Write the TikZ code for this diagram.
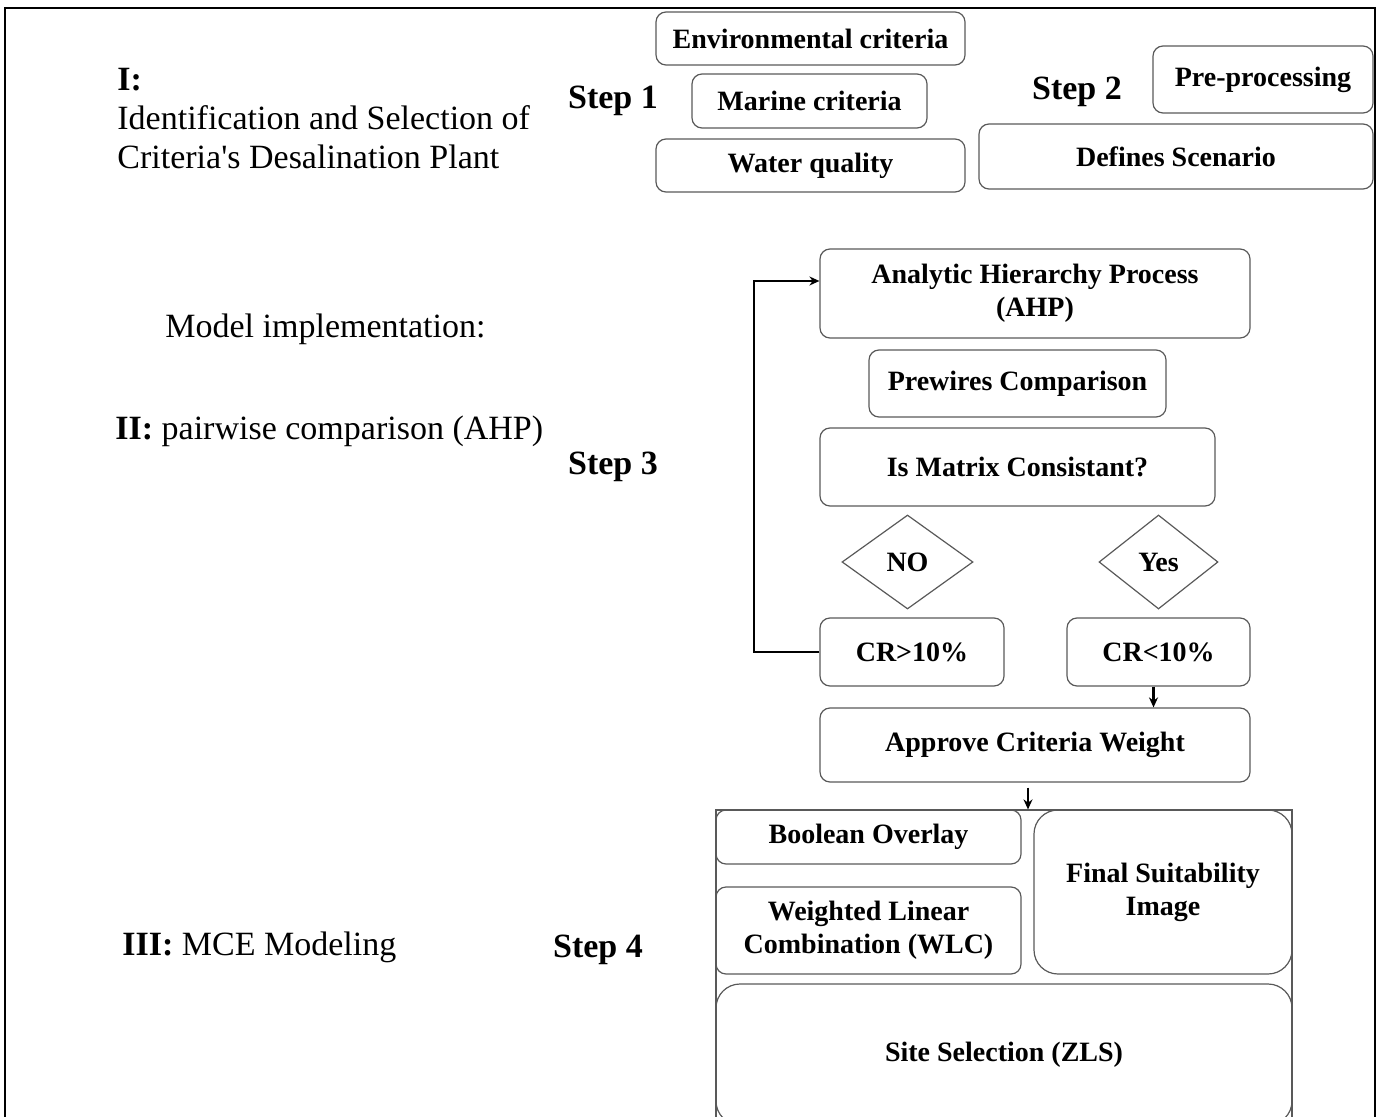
\documentclass[tikz,border=0pt]{standalone}
\usepackage{fontspec}
\setmainfont{Liberation Serif}
\usetikzlibrary{arrows.meta,shapes.geometric}

\tikzset{
	box/.style={draw=black!65, line width=0.6pt, rounded corners=5pt, align=center, inner sep=0pt, font=\fontsize{14}{16.5}\selectfont\bfseries},
	bigbox/.style={box, rounded corners=12pt},
	choice/.style={diamond, draw=black!65, line width=0.6pt, inner sep=0pt, font=\fontsize{14}{16.5}\selectfont\bfseries},
	steplabel/.style={yshift=-2pt, font=\fontsize{17}{20}\selectfont\bfseries},
	phase/.style={anchor=west, align=left, inner sep=0pt, font=\fontsize{17}{19.5}\selectfont},
	flow/.style={line width=1.1pt, -{Stealth[length=5pt,width=4.5pt]}}
}

\begin{document}
\begin{tikzpicture}[x=0.5pt, y=-0.5pt]
		%%%%% START %%%%%
		\useasboundingbox (0,0) rectangle (1380,1117);
		\draw[line width=1pt] (5,1117) -- (5,8) -- (1375,8) -- (1375,1117);
		
		\node[phase] (idtxt) at (117,119) {\textbf{I:}\\Identification and Selection of\\Criteria\textquotesingle s Desalination Plant};
		\node[phase] (model) at (165,329) {Model implementation:};
		\node[phase] (pairtxt) at (115,431) {\textbf{II:} pairwise comparison (AHP)};
		\node[phase] (mcetxt) at (122,947) {\textbf{III:} MCE Modeling};
		
		\node[steplabel] (step1) at (613,97) {Step 1};
		\node[steplabel] (step2) at (1077,88) {Step 2};
		\node[steplabel] (step3) at (613,463) {Step 3};
		\node[steplabel] (step4) at (598,946) {Step 4};
		
		\node[box, minimum width=154.5pt, minimum height=26.5pt] (env) at (810.5,38.5) {Environmental criteria};
		\node[box, minimum width=117.5pt, minimum height=27pt] (marine) at (809.5,101) {Marine criteria};
		\node[box, minimum width=154.5pt, minimum height=26.5pt] (water) at (810.5,165.5) {Water quality};
		
		\node[box, minimum width=110pt, minimum height=33.5pt] (pre) at (1263,79.5) {Pre-processing};
		\node[box, minimum width=197pt, minimum height=32.5pt] (scen) at (1176,156.5) {Defines Scenario};
		
		\node[box, minimum width=215pt, minimum height=44.5pt] (ahp) at (1035,293.5) {Analytic Hierarchy Process\\(AHP)};
		\node[box, minimum width=148.5pt, minimum height=33.5pt] (pairs) at (1017.5,383.5) {Prewires Comparison};
		\node[box, minimum width=197.5pt, minimum height=39pt] (matrix) at (1017.5,467) {Is Matrix Consistant?};
		
		\node[choice, minimum width=65.5pt, minimum height=47pt] (no) at (907.5,562) {NO};
		\node[choice, minimum width=59.5pt, minimum height=47pt] (yes) at (1158.5,562) {Yes};
		
		\node[box, minimum width=92pt, minimum height=34pt] (crhigh) at (912,652) {CR>10\%};
		\node[box, minimum width=91.5pt, minimum height=34pt] (crlow) at (1158.5,652) {CR<10\%};
		
		\node[box, minimum width=215pt, minimum height=37pt] (approve) at (1035,745) {Approve Criteria Weight};
		
		\node[draw=black!65, line width=0.6pt, minimum width=288pt, minimum height=160pt, inner sep=0pt] (mce) at (1004,970) {};
		\node[box, minimum width=152.5pt, minimum height=27pt] (bool) at (868.5,837) {Boolean Overlay};
		\node[box, minimum width=152.5pt, minimum height=43.5pt] (wlc) at (868.5,930.5) {Weighted Linear\\Combination (WLC)};
		\node[bigbox, minimum width=129pt, minimum height=82pt] (final) at (1163,892) {Final Suitability\\Image};
		\node[bigbox, minimum width=288pt, minimum height=70.5pt] (site) at (1004,1054.5) {Site Selection (ZLS)};
		
		\coordinate (loop) at (754,281);
		\draw[flow] (crhigh.west) -| (loop) -- (ahp.west |- loop);
		\draw[flow] ([xshift=-2.5pt]crlow.south) -- ([xshift=-2.5pt]crlow.south |- approve.north);
		\draw[flow] ([shift={(-3.5pt,-2.5pt)}]approve.south) -- ([xshift=-3.5pt]approve.south |- mce.north);
		%%%%% END %%%%%
\end{tikzpicture}
\end{document}
